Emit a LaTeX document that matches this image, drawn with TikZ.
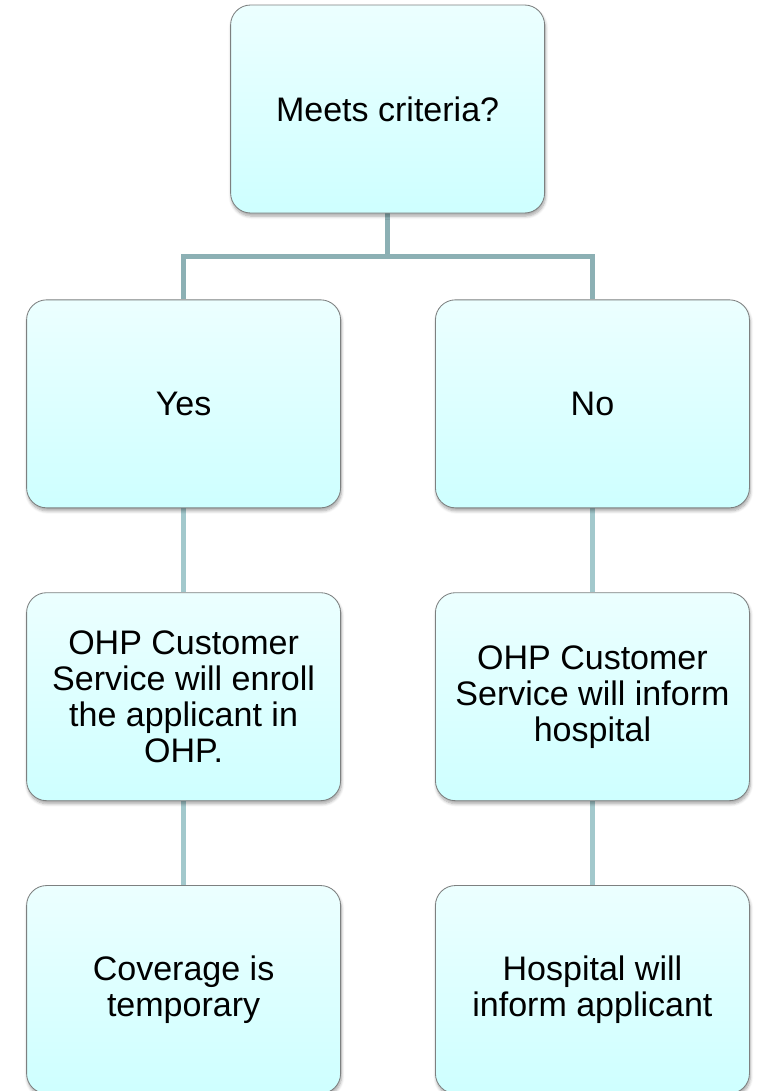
\documentclass[tikz,border=0pt]{standalone}
\usepackage{fontspec}
\setmainfont{Liberation Sans}
\usepackage{tikz}
\usetikzlibrary{positioning, backgrounds, shadows.blur}

\definecolor{boxtop}{RGB}{236,255,255}
\definecolor{boxbot}{RGB}{206,255,255}
\definecolor{boxline}{RGB}{125,128,128}
\definecolor{linkdark}{RGB}{140,176,180}
\definecolor{linklight}{RGB}{162,200,204}

\begin{document}
\begin{tikzpicture}[
    node distance=2.1cm and 2.35cm,
    stepbox/.style={draw=boxline, line width=0.6pt, rectangle, rounded corners=0.5cm,
        minimum width=7.85cm, minimum height=5.2cm, align=center,
        top color=boxtop, bottom color=boxbot,
        blur shadow={shadow xshift=0.6pt, shadow yshift=-2.2pt, shadow blur steps=6, shadow opacity=35},
        font=\fontsize{24.2}{25.6}\selectfont},
    link/.style={line width=3.6pt, linklight},
    forklink/.style={line width=3.6pt, linkdark}
]
    \useasboundingbox (0,0) rectangle (18.9,-27.275);
    % Decision node on top
    \node[stepbox] (criteria) at (9.69,-2.725) {Meets criteria?};
    % First row of answers
    \node[stepbox, below=2.15cm of criteria, xshift=-5.1cm] (yes) {Yes};
    \node[stepbox, right=of yes] (no) {No};
    % What happens next
    \node[stepbox, below=of yes] (enroll) {OHP Customer\\Service will enroll\\the applicant in\\OHP.};
    \node[stepbox, below=of no] (inform) {OHP Customer\\Service will inform\\hospital};
    \node[stepbox, below=of enroll] (coverage) {Coverage is\\temporary};
    \node[stepbox, below=of inform] (hospital) {Hospital will\\inform applicant};
    % Connectors behind the boxes
    \begin{scope}[on background layer]
        \draw[forklink] (criteria.south) -- ++(0,-1.075) -| (yes.north);
        \draw[forklink] (criteria.south) -- ++(0,-1.075) -| (no.north);
        \draw[link] (yes) -- (enroll);
        \draw[link] (enroll) -- (coverage);
        \draw[link] (no) -- (inform);
        \draw[link] (inform) -- (hospital);
    \end{scope}
\end{tikzpicture}
\end{document}
